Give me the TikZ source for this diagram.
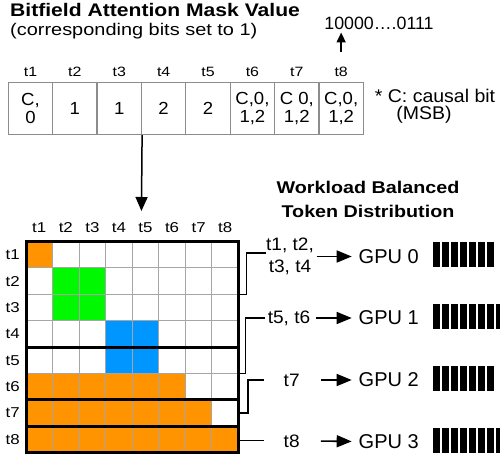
\documentclass[tikz,border=0pt]{standalone}
\usepackage{fontspec}
\setmainfont{Liberation Sans}[FakeStretch=1.18]
\newfontfamily\titlefont{Liberation Sans}[FakeStretch=1.16]
\newfontfamily\gpufont{Liberation Sans}
\newfontfamily\midfont{Liberation Sans}[FakeStretch=1.06]
\usetikzlibrary{arrows.meta}
\definecolor{cOrange}{HTML}{FF9300}
\definecolor{cGreen}{HTML}{00F900}
\definecolor{cBlue}{HTML}{0096FF}
\definecolor{cGrid}{HTML}{A6A6A6}
\definecolor{cBox}{HTML}{8C8C8C}
\begin{document}
\begin{tikzpicture}[x=1pt,y=-1pt,
  ttl/.style={font=\titlefont\bfseries\fontsize{17}{24.4}\selectfont, inner sep=0},
  subttl/.style={font=\fontsize{16.9}{20}\selectfont, inner sep=0, anchor=base west},
  toplab/.style={font=\fontsize{13.5}{14}\selectfont, inner sep=0},
  bitbox/.style={draw=cBox, line width=1.3pt, minimum width=44.38pt, minimum height=52pt,
    inner sep=0, align=center, font=\midfont\fontsize{17.5}{18}\selectfont},
  glab/.style={font=\fontsize{14.3}{16}\selectfont, inner sep=0},
  rlab/.style={font=\midfont\fontsize{18}{22}\selectfont, inner sep=0, minimum width=48pt, align=center},
  gpu/.style={font=\gpufont\fontsize{20}{22}\selectfont, inner sep=0, anchor=west},
  note/.style={font=\midfont\fontsize{18.4}{20}\selectfont, inner sep=0},
  gridline/.style={draw=cGrid, line width=1pt},
  thickline/.style={draw=black, line width=3pt},
  conn/.style={draw=black, line width=1.5pt},
  garr/.style={draw=black, line width=1.6pt, -{Triangle[length=15pt,width=12pt]},
    shorten <=2.5pt, shorten >=6.8pt},
  darr/.style={draw=black, line width=1.5pt, -{Triangle[length=14pt,width=12pt]}},
  uarr/.style={draw=black, line width=1.8pt, -{Triangle[length=10pt,width=9pt]}},
  bar/.style={fill=black}
]
\useasboundingbox (0,0) rectangle (500,454);

% ---- titles ----
\node[ttl, font=\titlefont\bfseries\fontsize{18.2}{20}\selectfont, anchor=base west] (title) at (10,17) {Bitfield Attention Mask Value};
\node[subttl] (subtitle) at (10,36) {(corresponding bits set to 1)};

% ---- bitfield boxes ----
\foreach \i/\txt in {1/{C,\\0},2/{1},3/{1},4/{2},5/{2},6/{C,0,\\1,2},7/{C 0,\\1,2},8/{C,0,\\1,2}}{
  \node[bitbox] (box\i) at ({30.5+44.38*(\i-1)},108.5) {\txt};
  \node[toplab] (lt\i) at ({30.5+44.38*(\i-1)},71.5) {t\i};
}
\node[note, font=\gpufont\fontsize{17.8}{18}\selectfont] (bits) at (379,23) {10000….0111};
\draw[uarr, shorten <=15pt, shorten >=3pt] (lt8.north) -- (lt8.north |- bits.south);
\node[note] (causal) at (435,96) {* C: causal bit};
\node[note] (msb) at (424,115) {(MSB)};

% ---- arrow to matrix ----
\coordinate (gridin) at (141.44,211);
\draw[darr] (box3.south east) -- (gridin);

% ---- matrix ----
\def\cw{26.56}
\def\ch{26.4}
\fill[cOrange] (26,241.5) rectangle ++(\cw,\ch);
\fill[cGreen] ({26+\cw},{241.5+\ch}) rectangle ++({2*\cw},{2*\ch});
\fill[cBlue] ({26+3*\cw},{241.5+3*\ch}) rectangle ++({2*\cw},{2*\ch});
\fill[cOrange] (26,{241.5+5*\ch}) rectangle ++({6*\cw},\ch);
\fill[cOrange] (26,{241.5+6*\ch}) rectangle ++({7*\cw},\ch);
\fill[cOrange] (26,{241.5+7*\ch}) rectangle ++({8*\cw},\ch);
\foreach \i in {1,...,7}{
  \draw[gridline] ({26+\cw*\i},241.5) -- ({26+\cw*\i},452.7);
  \draw[gridline] (26,{241.5+\ch*\i}) -- (238.5,{241.5+\ch*\i});
}
\draw[thickline] (26,241.5) rectangle (238.5,452.7);
\foreach \j in {4,6,7}{
  \draw[thickline] (26,{241.5+\ch*\j}) -- (238.5,{241.5+\ch*\j});
}
\foreach \i in {1,...,8}{
  \node[glab] (col\i) at ({26+\cw*(\i-0.5)},228) {t\i};
  \node[glab] (row\i) at (12.7,{241.5+\ch*(\i-0.5)}) {t\i};
}

% ---- workload distribution ----
\node[ttl, align=center] (wl) at (368,199.5) {Workload Balanced\\Token Distribution};

\coordinate (e0) at (238.5,294.3);
\coordinate (e1) at (238.5,373.5);
\coordinate (e2) at (238.5,413.1);
\coordinate (e3) at (238.5,440.5);

\node[rlab] (lab0) at (290,256.5) {t1, t2,\\t3, t4};
\node[rlab] (lab1) at (289,318) {t5, t6};
\node[rlab] (lab2) at (291.7,380) {t7};
\node[rlab] (lab3) at (291.7,441) {t8};

\draw[conn] (e0) -- ++(8,0) |- ([yshift=3.5pt]lab0.west);
\draw[conn] (e1) -- ++(7,0) |- (lab1.west);
\draw[conn, shorten >=4pt] (e2) -- ++(9.5,0) |- (lab2.west);
\draw[conn, shorten >=4pt] (e3) -- (e3 -| lab3.west);

\node[gpu] (gpu0) at (358.5,256.5) {GPU 0};
\node[gpu] (gpu1) at (358.5,318) {GPU 1};
\node[gpu] (gpu2) at (358.5,380) {GPU 2};
\node[gpu] (gpu3) at (358.5,441.5) {GPU 3};

\draw[garr] (lab0.east |- gpu0.west) -- (gpu0.west);
\draw[garr] (lab1.east) -- (gpu1.west);
\draw[garr, shorten <=5pt] (lab2.east) -- (gpu2.west);
\draw[garr, shorten <=5pt] (lab3.east) -- (gpu3.west);

\begin{scope}
\clip (0,0) rectangle (500,454);
\foreach \y/\n in {254.8/7, 316.7/9, 378.8/7, 440.8/9}{
  \foreach \k in {1,...,\n}{
    \fill[bar] ({433.3+8.9*(\k-1)},{\y-12.4}) rectangle ++(6.8,24.8);
  }
}
\end{scope}
\end{tikzpicture}
\end{document}
